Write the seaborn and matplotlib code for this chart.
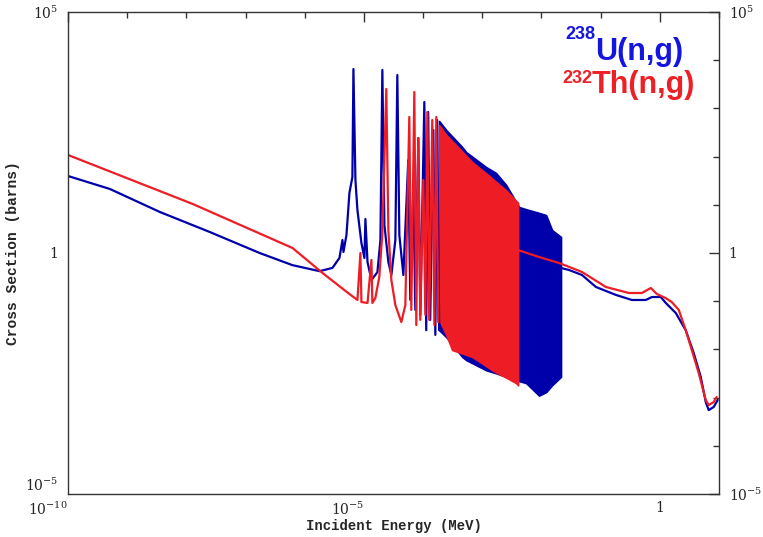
import numpy as np
import pandas as pd
import matplotlib
matplotlib.use("Agg")
import matplotlib.pyplot as plt
import seaborn as sns
from matplotlib.ticker import FixedLocator, FixedFormatter, NullFormatter

# U-238 (n,g): thermal + resolved resonances (MeV, barns)
u_low_e = [1e-10, 5.1e-10, 3.56e-9, 2.48e-8, 1.73e-7, 6.2e-7, 1.78e-6, 2.94e-6, 3.86e-6,
           4.34e-6, 4.51e-6, 5.07e-6, 5.69e-6, 6.39e-6, 6.65e-6, 7.19e-6, 7.77e-6, 9.08e-6,
           1.02e-5, 1.06e-5, 1.15e-5, 1.34e-5, 1.69e-5, 1.90e-5, 2.05e-5, 2.22e-5, 2.59e-5,
           2.91e-5, 3.40e-5, 3.67e-5, 3.97e-5, 4.64e-5, 5.62e-5, 6.08e-5, 6.84e-5, 7.39e-5,
           8.30e-5, 8.97e-5, 1.05e-4, 1.13e-4, 1.22e-4, 1.32e-4, 1.49e-4, 1.61e-4, 1.73e-4,
           1.87e-4]
u_low_xs = [39.6, 21.3, 7.1, 2.73, 1.0, 0.56, 0.42, 0.49, 0.79,
            1.86, 1.05, 2.36, 17.6, 37.7, 6560, 32.7, 7.8, 1.61,
            0.79, 5.07, 0.65, 0.275, 0.40, 1.86, 6270, 3.81, 0.65,
            0.35, 1.86, 4930, 2.36, 0.35, 85, 0.106, 20.3, 0.066,
            243, 0.052, 1360, 0.025, 841, 0.041, 356, 0.020, 574,
            0.025]

# U-238 dense resonance band: upper / lower envelope
u_band_e = [1.87e-4, 2.46e-4, 4.58e-4, 5.35e-4, 1.16e-3, 1.71e-3, 2.53e-3, 4.19e-3,
            5.50e-3, 9.11e-3, 1.20e-2, 1.51e-2, 2.14e-2]
u_band_hi = [548, 356, 158, 124, 60.8, 45.7, 25.8, 9.0, 8.1, 6.8, 6.1, 3.0, 2.15]
u_band_lo = [0.025, 0.018, 0.0070, 0.0060, 0.0037, 0.0032, 0.0027, 0.0022, 0.0020,
             0.0011, 0.0013, 0.0018, 0.0027]

# U-238 unresolved / fast region
u_high_e = [2.14e-2, 2.92e-2, 4.84e-2, 8.34e-2, 0.181, 0.337, 0.581, 0.733, 1.04, 1.26,
            1.86, 2.74, 3.74, 4.91, 5.97, 6.70, 8.15, 9.5]
u_high_xs = [0.489, 0.444, 0.35, 0.197, 0.135, 0.106, 0.106, 0.122, 0.122, 0.092,
             0.057, 0.025, 0.0084, 0.0027, 0.00081, 0.00055, 0.00064, 0.00089]

# Th-232 (n,g): thermal + resolved resonances
th_low_e = [1e-10, 1.28e-8, 6.22e-7, 2.0e-6, 5.69e-6, 7.77e-6, 8.73e-6, 9.08e-6, 1.15e-5,
            1.34e-5, 1.39e-5, 1.56e-5, 1.82e-5, 2.05e-5, 2.39e-5, 2.59e-5, 2.91e-5, 3.40e-5,
            4.29e-5, 5.01e-5, 5.85e-5, 6.32e-5, 7.11e-5, 7.68e-5, 8.30e-5, 8.97e-5, 1.01e-4,
            1.09e-4, 1.18e-4, 1.27e-4, 1.43e-4, 1.55e-4, 1.67e-4, 1.80e-4]
th_low_xs = [108, 10.4, 1.27, 0.385, 0.141, 0.106, 1.0, 0.096, 0.092,
             0.72, 0.092, 0.116, 0.318, 2.6, 2520, 3.0, 0.275, 0.083,
             0.037, 0.083, 664, 0.066, 2190, 0.032, 243, 0.041, 32.7,
             0.052, 841, 0.041, 574, 0.032, 664, 0.037]

th_band_e = [1.87e-4, 2.46e-4, 3.10e-4, 6.76e-4, 1.31e-3, 1.47e-3, 2.53e-3, 3.73e-3, 4.03e-3]
th_band_hi = [453, 281, 211, 77, 40, 35, 20, 12, 11]
th_band_lo = [0.041, 0.020, 0.0097, 0.0070, 0.0041, 0.0037, 0.0026, 0.0020, 0.0018]

th_high_e = [4.03e-3, 9.11e-3, 1.98e-2, 4.84e-2, 0.123, 0.300, 0.497, 0.705, 0.889, 1.26,
             1.59, 2.09, 2.74, 3.47, 4.55, 5.97, 6.70, 8.15, 9.14]
th_high_xs = [1.15, 0.826, 0.621, 0.404, 0.197, 0.148, 0.148, 0.188, 0.141, 0.116,
              0.096, 0.066, 0.025, 0.0097, 0.0032, 0.00089, 0.0007, 0.00081, 0.00103]

U_COLOR = "#0000aa"
TH_COLOR = "#ee1c25"

sns.set_style("white")
plt.rcParams["mathtext.fontset"] = "dejavuserif"

fig = plt.figure(figsize=(7.63, 5.37), dpi=100)
ax = fig.add_axes([68 / 763, 1 - 494 / 537, 651 / 763, 482 / 537])
ax.set_xscale("log")
ax.set_yscale("log")


def draw(low_e, low_xs, band_e, band_hi, band_lo, high_e, high_xs, color):
    low = pd.DataFrame({"energy": low_e, "xs": low_xs})
    high = pd.DataFrame({"energy": high_e, "xs": high_xs})
    sns.lineplot(data=low, x="energy", y="xs", sort=False, estimator=None,
                 color=color, lw=1.6, ax=ax)
    ax.fill_between(band_e, band_lo, band_hi, color=color, lw=1.2, edgecolor=color)
    sns.lineplot(data=high, x="energy", y="xs", sort=False, estimator=None,
                 color=color, lw=1.6, ax=ax)


draw(u_low_e, u_low_xs, u_band_e, u_band_hi, u_band_lo, u_high_e, u_high_xs, U_COLOR)
draw(th_low_e, th_low_xs, th_band_e, th_band_hi, th_band_lo, th_high_e, th_high_xs, TH_COLOR)

ax.set_xlim(1e-10, 1e1)
ax.set_ylim(1e-5, 1e5)

ax.xaxis.set_major_locator(FixedLocator([1e-10, 1e-5, 1]))
ax.xaxis.set_major_formatter(FixedFormatter([r"$10^{-10}$", r"$10^{-5}$", "1"]))
ax.xaxis.set_minor_locator(FixedLocator([10.0 ** k for k in range(-10, 2)]))
ax.xaxis.set_minor_formatter(NullFormatter())
ax.yaxis.set_major_locator(FixedLocator([1e-5, 1, 1e5]))
ax.yaxis.set_major_formatter(FixedFormatter([r"$10^{-5}$", "1", r"$10^{5}$"]))
ax.yaxis.set_minor_locator(FixedLocator([10.0 ** k for k in range(-5, 6)]))
ax.yaxis.set_minor_formatter(NullFormatter())

ax.tick_params(which="both", direction="in", top=True, right=True, labelright=True,
               color="#333333", width=1, labelsize=10)
ax.tick_params(which="major", length=7)
ax.tick_params(which="minor", length=4)
ax.tick_params(axis="x", pad=5)
ax.tick_params(axis="y", pad=7)
for lbl in ax.get_xticklabels() + ax.get_yticklabels():
    lbl.set_family("DejaVu Serif")
for lbl, ha in zip(ax.get_xticklabels(), ["right", "right", "center"]):
    lbl.set_ha(ha)
ax.get_yticklabels()[0].set_va("bottom")

for sp in ax.spines.values():
    sp.set_color("#333333")
    sp.set_linewidth(1)

ax.set_xlabel("Incident Energy (MeV)", family="Liberation Mono", weight="bold",
              fontsize=10)
ax.xaxis.set_label_coords(0.5, -0.051)
ax.set_ylabel("Cross Section (barns)", family="Liberation Mono", weight="bold",
              fontsize=10.5)
ax.yaxis.set_label_coords(-0.074, 0.5)

fig.text(595 / 763, 1 - 60 / 537, "U(n,g)", color="#1515e0", family="Liberation Sans",
         weight="bold", fontsize=22, ha="left", va="baseline")
fig.text(595 / 763, 1 - 39 / 537, "238", color="#1515e0", family="Liberation Sans",
         weight="bold", fontsize=13, ha="right", va="baseline")
fig.text(592 / 763, 1 - 93 / 537, "Th(n,g)", color="#ee2025", family="Liberation Sans",
         weight="bold", fontsize=22, ha="left", va="baseline")
fig.text(592 / 763, 1 - 83 / 537, "232", color="#ee2025", family="Liberation Sans",
         weight="bold", fontsize=13, ha="right", va="baseline")

fig.savefig("out.png", dpi=100)
